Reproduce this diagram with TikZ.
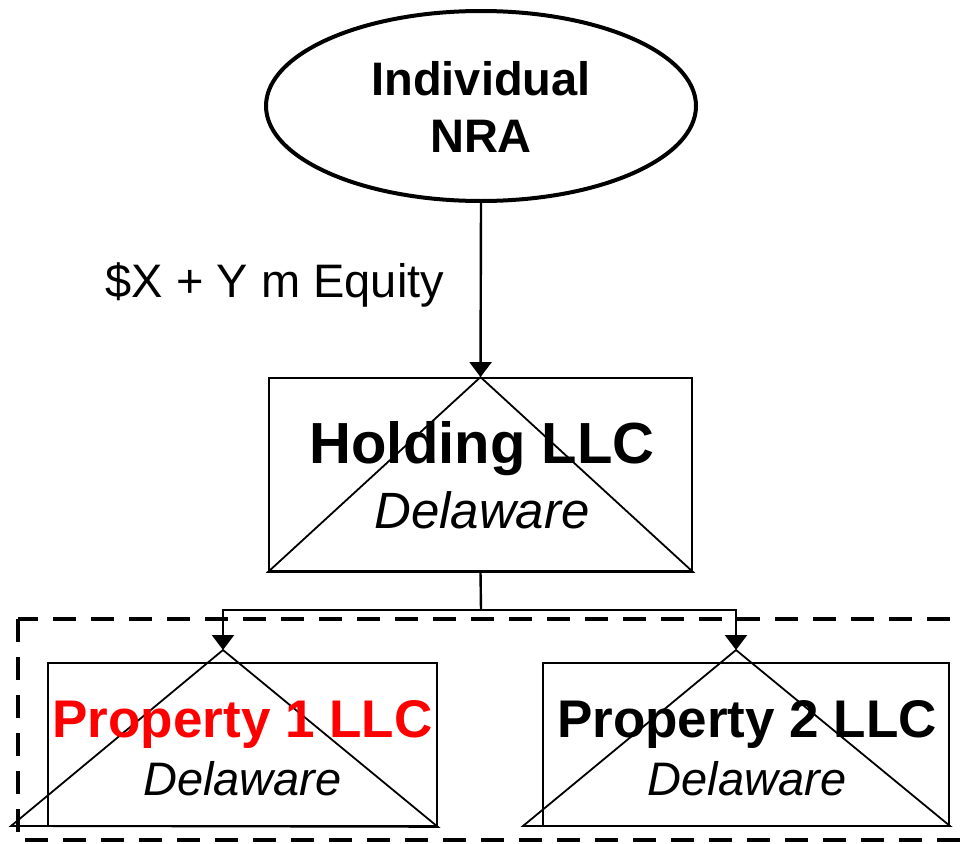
\documentclass[tikz,border=0pt]{standalone}
\usepackage{fontspec}
\setmainfont{Liberation Sans}
\usetikzlibrary{shapes.geometric,arrows.meta}

\tikzset{
	box/.style={draw, line width=1.8pt, inner sep=0pt},
	conn/.style={line width=2.4pt, -{Triangle[length=15pt,width=22pt]}},
	txt/.style={anchor=base, inner sep=0pt}
}

\begin{document}
\begin{tikzpicture}[x=1pt,y=-1pt]
	\useasboundingbox (0,0) rectangle (963,843);

	% group of the property companies
	\draw[line width=4.5pt, dash pattern=on 23pt off 15pt] (18,619) rectangle (985,840);

	\node[ellipse, draw, line width=4pt, minimum width=430pt, minimum height=190pt] (nra) at (481,106) {};
	\node[txt, font=\fontsize{47pt}{50pt}\selectfont\bfseries] (nraA) at (481,95) {Individual};
	\node[txt, font=\fontsize{47pt}{50pt}\selectfont\bfseries] (nraB) at (481,152) {NRA};

	\node[box, minimum width=423pt, minimum height=193pt] (hold) at (480.5,474.5) {};
	\draw[line width=1.8pt] (hold.north) -- (hold.south west) -- (hold.south east) -- cycle;
	\node[txt, font=\fontsize{58pt}{60pt}\selectfont\bfseries] (holdA) at (482,463) {Holding LLC};
	\node[txt, font=\fontsize{51pt}{54pt}\selectfont\itshape] (holdB) at (482,528) {Delaware};

	\node[txt, font=\fontsize{47pt}{50pt}\selectfont] (equity) at (275,297) {\$X + Y m Equity};

	% property companies
	\coordinate (p1tip) at (223,650);
	\coordinate (p2tip) at (736,650);
	\node[box, minimum width=389pt, minimum height=163pt] (prop1) at (242.5,744.5) {};
	\node[box, minimum width=406pt, minimum height=163pt] (prop2) at (746,744.5) {};
	\draw[line width=1.8pt] (p1tip) -- (11,826) -- (prop1.south east) -- cycle;
	\draw[line width=1.8pt] (p2tip) -- (523,826) -- (950,826) -- cycle;

	\node[txt, red, font=\fontsize{53pt}{56pt}\selectfont\bfseries] (prop1A) at (242.5,737) {Property 1 LLC};
	\node[txt, font=\fontsize{47pt}{50pt}\selectfont\itshape] (prop1B) at (242.5,795) {Delaware};
	\node[txt, font=\fontsize{53pt}{56pt}\selectfont\bfseries] (prop2A) at (747,737) {Property 2 LLC};
	\node[txt, font=\fontsize{47pt}{50pt}\selectfont\itshape] (prop2B) at (747,795) {Delaware};

	% ownership
	\draw[conn] (nra.south) -- (hold.north);
	\coordinate (split) at (481,610);
	\draw[line width=2.4pt] (hold.south) -- (split);
	\draw[conn] (split) -| (p1tip);
	\draw[conn] (split) -| (p2tip);
\end{tikzpicture}
\end{document}
